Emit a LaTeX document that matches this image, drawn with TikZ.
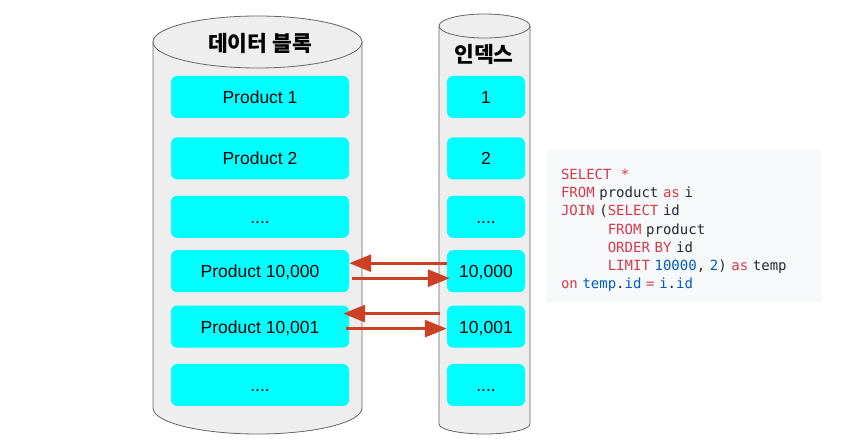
\documentclass[tikz,border=0pt]{standalone}
\usepackage{fontspec}
\setmainfont{Liberation Sans}
\newfontfamily\kofont{Noto Sans CJK KR}
\newfontfamily\codefont{DejaVu Sans Mono}
\usetikzlibrary{positioning,arrows.meta}
\definecolor{cyanbox}{HTML}{00FFFF}
\definecolor{cylfill}{HTML}{EEEEEE}
\definecolor{cylline}{HTML}{666666}
\definecolor{arrred}{HTML}{CC4125}
\definecolor{codebg}{HTML}{F6F8FA}
\definecolor{kw}{HTML}{D73A49}
\definecolor{num}{HTML}{005CC5}
\definecolor{txt}{HTML}{24292E}
\tikzset{
  rec/.style={fill=cyanbox,rounded corners=6pt,minimum width=178pt,minimum height=42pt,inner sep=0pt,text height=13pt,text depth=0pt,font=\fontsize{17.5}{21}\selectfont},
  idx/.style={rec,minimum width=78pt},
  cyl/.style={draw=cylline,fill=cylfill,line width=0.8pt},
  title/.style={font=\kofont\bfseries\fontsize{21.5}{24}\selectfont},
  code/.style={fill=codebg,minimum width=276pt,minimum height=152pt,inner xsep=15pt,text width=246pt,align=left,text=txt,font=\codefont\fontsize{14}{18.3}\selectfont},
  arr/.style={-{Triangle[length=22pt,width=17pt]},line width=3pt,draw=arrred}
}

\begin{document}
\begin{tikzpicture}[x=1pt,y=-1pt]
\useasboundingbox (0,0) rectangle (846,443);

\path[cyl] (153,42) -- (153,408) arc[start angle=180,end angle=360,x radius=104.5pt,y radius=26pt] -- (362,42);
\path[cyl] (257.5,42) ellipse[x radius=104.5pt,y radius=26pt];
\path[cyl] (439,26) -- (439,424) arc[start angle=180,end angle=360,x radius=45.5pt,y radius=10pt] -- (530,26);
\path[cyl] (484.5,26) ellipse[x radius=45.5pt,y radius=12pt];

\node[title] (blk) at (260,43) {데이터 블록};
\node[title] (ix) at (484,54) {인덱스};

\node[rec] (p1) at (260,97) {Product 1};
\node[rec,below=19pt of p1] (p2) {Product 2};
\node[rec,below=16pt of p2] (p3) {....};
\node[rec,below=12pt of p3] (p4) {Product 10,000};
\node[rec,below=13pt of p4] (p5) {Product 10,001};
\node[rec,below=16pt of p5] (p6) {....};

\node[idx] (i1) at (486,97) {1};
\node[idx] (i2) at (i1 |- p2) {2};
\node[idx] (i3) at (i1 |- p3) {....};
\node[idx] (i4) at (i1 |- p4) {10,000};
\node[idx] (i5) at (i1 |- p5) {10,001};
\node[idx] (i6) at (i1 |- p6) {....};

\node[code] (sql) at (684,226) {%
\rule{0pt}{19pt}\textcolor{kw}{SELECT}\ \ \textcolor{kw}{*}\\
\textcolor{kw}{FROM} product \textcolor{kw}{as} i\\
\textcolor{kw}{JOIN} (\textcolor{kw}{SELECT} id\\
\phantom{JOIN (}\textcolor{kw}{FROM} product\\
\phantom{JOIN (}\textcolor{kw}{ORDER BY} id\\
\phantom{JOIN (}\textcolor{kw}{LIMIT} \textcolor{num}{10000}, \textcolor{num}{2}) \textcolor{kw}{as} temp\\
\textcolor{kw}{on} \textcolor{num}{temp}.\textcolor{num}{id} \textcolor{kw}{=} \textcolor{num}{i}.\textcolor{num}{id}};

\draw[arr] ([yshift=8pt]i4.west) -- ([yshift=8pt]p4.east);
\draw[arr] ([xshift=3pt,yshift=-7pt]p4.east) -- ([xshift=3pt,yshift=-7pt]i4.west);
\draw[arr] ([xshift=-7pt,yshift=13pt]i5.west) -- ([xshift=-6pt,yshift=13pt]p5.east);
\draw[arr] ([xshift=-3pt,yshift=-2pt]p5.east) -- ([yshift=-2pt]i5.west);
\end{tikzpicture}
\end{document}
